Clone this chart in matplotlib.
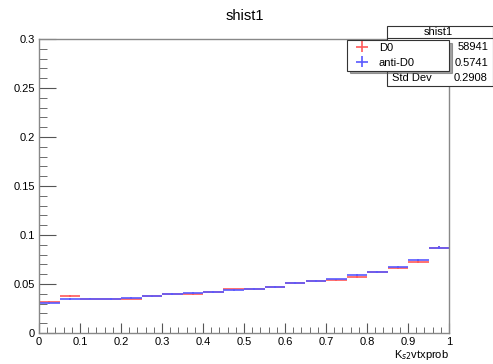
import numpy as np
import matplotlib
matplotlib.use("Agg")
from matplotlib import pyplot as plt
from matplotlib.patches import Rectangle
from matplotlib.lines import Line2D
from matplotlib.ticker import MultipleLocator, FormatStrFormatter

plt.rcParams['font.family'] = ['Liberation Sans', 'DejaVu Sans']

# bin edges of the histogram (20 bins between 0 and 1)
bin_edges = np.linspace(0, 1, 21)
d0_vals = [0.0320, 0.0378, 0.0352, 0.0347, 0.0352, 0.0376, 0.0395, 0.0398, 0.0415, 0.0445,
           0.0452, 0.0473, 0.0507, 0.0531, 0.0544, 0.0575, 0.0619, 0.0660, 0.0728, 0.0870]
antid0_vals = [0.0303, 0.0350, 0.0350, 0.0347, 0.0360, 0.0374, 0.0395, 0.0411, 0.0415, 0.0442,
               0.0450, 0.0473, 0.0507, 0.0529, 0.0546, 0.0595, 0.0619, 0.0670, 0.0745, 0.0870]
d0_errs = [0.0008, 0.0009, 0.0008, 0.0008, 0.0008, 0.0008, 0.0009, 0.0009, 0.0009, 0.0009,
           0.0009, 0.0009, 0.0010, 0.0010, 0.0010, 0.0010, 0.0011, 0.0011, 0.0012, 0.0013]
antid0_errs = d0_errs

# only "Std Dev" is visible, the other labels sit behind the legend
stats_labels = ["", "", "Std Dev"]
stats_values = ["58941", "0.5741", "0.2908"]

W, H = 493, 364
fig = plt.figure(figsize=(W / 100, H / 100), dpi=100)
ax = fig.add_axes([39 / W, 1 - 333 / H, (449 - 39) / W, (333 - 39) / H])

centers = 0.5 * (bin_edges[:-1] + bin_edges[1:])
half_w = 0.5 * np.diff(bin_edges)

red = (1.0, 0.35, 0.35)
blue = (0.35, 0.35, 1.0)
h1 = ax.errorbar(centers, d0_vals, xerr=half_w, yerr=d0_errs, fmt='none',
                 ecolor=red, elinewidth=1.2, capsize=0, label="D0")
h2 = ax.errorbar(centers, antid0_vals, xerr=half_w, yerr=antid0_errs, fmt='none',
                 ecolor=blue, elinewidth=1.2, capsize=0, label="anti-D0")

ax.set_xlim(0, 1)
ax.set_ylim(0, 0.3)
ax.xaxis.set_major_locator(MultipleLocator(0.1))
ax.xaxis.set_minor_locator(MultipleLocator(0.02))
ax.yaxis.set_major_locator(MultipleLocator(0.05))
ax.yaxis.set_minor_locator(MultipleLocator(0.01))
ax.xaxis.set_major_formatter(FormatStrFormatter('%g'))
ax.yaxis.set_major_formatter(FormatStrFormatter('%g'))
ax.tick_params(axis='x', which='major', direction='in', length=7, labelsize=8, pad=3, color='#555555')
ax.tick_params(axis='x', which='minor', direction='in', length=4, color='#555555')
ax.tick_params(axis='y', which='major', direction='in', length=12, labelsize=8, pad=3, color='#555555')
ax.tick_params(axis='y', which='minor', direction='in', length=6, color='#555555')
for sp in ax.spines.values():
    sp.set_color('#888888')
    sp.set_linewidth(1)

fig.text(245 / W, 1 - 16 / H, "shist1", ha='center', va='center', fontsize=10.5)
fig.text(449 / W, 1 - 355 / H, r"K$_{s2}$vtxprob", ha='right', va='center', fontsize=8)

# stats box
box = Rectangle((387 / W, 1 - 86 / H), (493 - 387) / W, 60 / H, transform=fig.transFigure,
                facecolor='white', edgecolor='#333333', linewidth=0.8, zorder=2)
fig.add_artist(box)
fig.add_artist(Line2D([387 / W, 1], [1 - 38 / H, 1 - 38 / H], transform=fig.transFigure,
                      color='#333333', linewidth=0.8, zorder=2))
fig.text(438 / W, 1 - 32 / H, "shist1", ha='center', va='center', fontsize=8, zorder=3)
for i, (lab, val) in enumerate(zip(stats_labels, stats_values)):
    y = 1 - (47 + 15.5 * i) / H
    if lab:
        fig.text(392 / W, y, lab, ha='left', va='center', fontsize=8, zorder=3)
    fig.text(488 / W, y, val, ha='right', va='center', fontsize=8, zorder=3)

leg = fig.legend(handles=[h1, h2], loc='upper left',
                 bbox_to_anchor=(347 / W, 1 - 75 / H, 102 / W, 35 / H), mode='expand',
                 borderaxespad=0, fontsize=8, fancybox=False, shadow=True, framealpha=1,
                 edgecolor='#333333', handlelength=2.2, handletextpad=0.4,
                 labelspacing=0.45, borderpad=0.25)
leg.set_zorder(5)
leg.get_frame().set_linewidth(0.8)
for hl in leg.legend_handles:
    for ch in hl.get_children():
        ch.set_linewidth(0.9)

fig.savefig("out.png", dpi=100)
